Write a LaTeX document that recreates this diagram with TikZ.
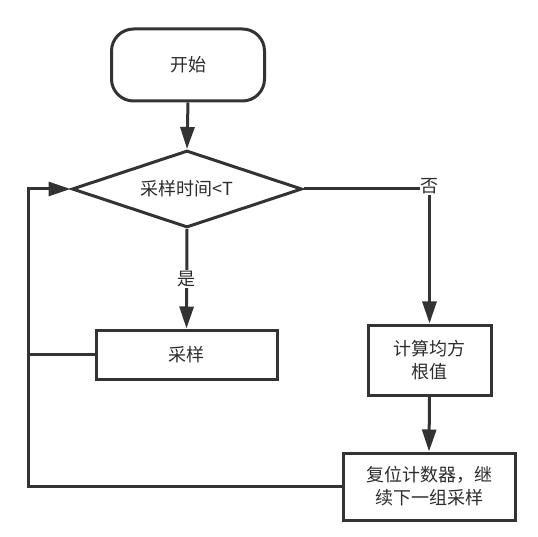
\documentclass[tikz,border=0pt]{standalone}
\usepackage{fontspec}
\newfontfamily\cjk{Noto Sans CJK SC}
\usepackage{tikz}
\usetikzlibrary{arrows.meta,shapes.geometric}
\usepackage{xcolor}
\definecolor{linegrey}{RGB}{51,51,51}
\definecolor{textgrey}{RGB}{45,45,45}

\begin{document}
\begin{tikzpicture}[x=1pt, y=-1pt,
    font=\cjk\fontsize{18}{23}\selectfont, text=textgrey,
    box/.style={draw=linegrey, line width=3pt, fill=white, align=center, inner sep=0pt},
    link/.style={draw=linegrey, line width=3pt, -{Triangle[length=22pt,width=14pt]}},
    plain/.style={draw=linegrey, line width=3pt},
    tag/.style={fill=white, inner sep=1pt}]
    \useasboundingbox (0,0) rectangle (538,537);

    % Start terminal
    \node[box, rounded corners=22pt, minimum width=153pt, minimum height=72pt]
      (start) at (188,65) {开始};

    % Decision
    \node[box, diamond, shape aspect=3, minimum width=230pt, minimum height=77pt]
      (check) at (187,189) {采样时间<T};

    % Process boxes
    \node[box, minimum width=181pt, minimum height=49pt] (sample) at (186.5,354.5) {采样};
    \node[box, minimum width=123pt, minimum height=70pt] (rms) at (429.5,360) {计算均方\\根值};
    \node[box, minimum width=172pt, minimum height=67pt] (reset) at (429,486.5) {复位计数器，继\\续下一组采样};

    % Return path
    \coordinate (back) at (28,189);

    % Connectors
    \draw[link] (start.south) -- (check.north);
    \draw[link] (check.south) -- node[tag] {是} (sample.north);
    \draw[link] (check.east) -| node[tag, pos=0.5, yshift=3pt] {否} (rms.north);
    \draw[link] (rms.south) -- (reset.north);
    \draw[plain] (sample.west) -- (sample.west -| back);
    \draw[link] (reset.west) -| (back) -- (check.west);
  \end{tikzpicture}
\end{document}
